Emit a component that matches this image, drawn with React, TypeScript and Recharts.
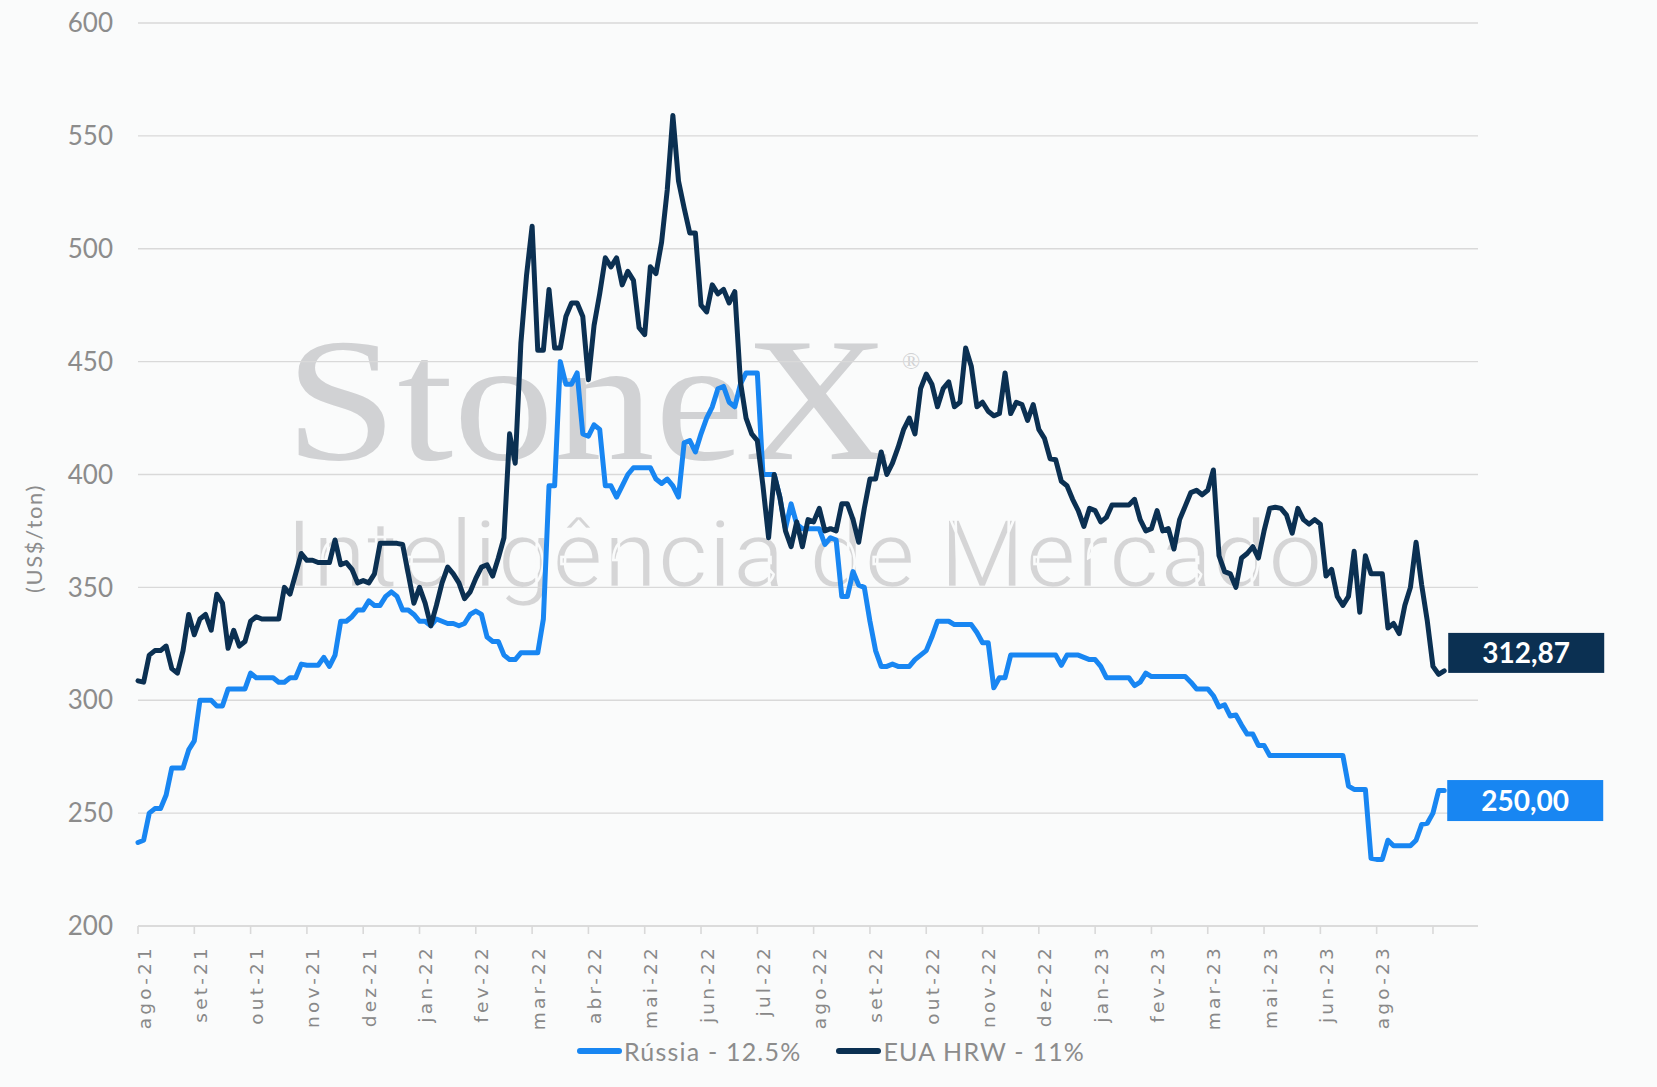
import React from "react";
import {
  CartesianGrid,
  Legend,
  Line,
  LineChart,
  XAxis,
  YAxis,
} from "recharts";

// tick labels on the date axis, one every 10 points (last tick has no label)
const xLabels = [
  "ago-21", "set-21", "out-21", "nov-21", "dez-21", "jan-22", "fev-22", "mar-22",
  "abr-22", "mai-22", "jun-22", "jul-22", "ago-22", "set-22", "out-22", "nov-22",
  "dez-22", "jan-23", "fev-23", "mar-23", "mai-23", "jun-23", "ago-23", "",
];
const POINTS_PER_TICK = 10;
const X_MAX = 238;

const yTicks = [200, 250, 300, 350, 400, 450, 500, 550, 600];

const seriesNames = ["Rússia - 12.5%", "EUA HRW - 11%"];

// Rússia - 12.5% (US$/ton)
const russia = [
  237, 238, 250, 252, 252, 258, 270, 270, 270, 278,
  282, 300, 300, 300, 297.5, 297.5, 305, 305, 305, 305,
  312, 310, 310, 310, 310, 308, 308, 310, 310, 316,
  315.5, 315.5, 315.5, 319, 315, 320, 335, 335, 337, 340,
  340, 344, 342, 342, 346, 348, 346, 340, 340, 338,
  335, 335, 333, 336, 335, 334, 334, 333, 334, 338,
  339.5, 338, 328, 326, 326, 320, 318, 318, 321, 321,
  321, 321, 336, 395, 395, 450, 440, 440, 445, 418,
  417, 422, 420, 395, 395, 390, 395, 400, 403, 403,
  403, 403, 398, 396, 398, 395, 390, 414, 415, 410,
  418, 425, 430, 438, 439, 432, 430, 440, 445, 445,
  445, 400, 400, 400, 390, 376, 387, 378, 376, 376,
  376, 376, 369, 372, 371, 346, 346, 357, 351, 350,
  335, 322, 315, 315, 316, 315, 315, 315, 318, 320,
  322, 328, 335, 335, 335, 333.5, 333.5, 333.5, 333.5, 330,
  325.5, 325.5, 305.5, 310, 310, 320, 320, 320, 320, 320,
  320, 320, 320, 320, 315.5, 320, 320, 320, 319, 318,
  318, 315, 310, 310, 310, 310, 310, 306.5, 308, 312,
  310.5, 310.5, 310.5, 310.5, 310.5, 310.5, 310.5, 308, 305, 305,
  305, 302, 297, 298, 293, 293.5, 289, 285, 285, 280,
  280, 275.5, 275.5, 275.5, 275.5, 275.5, 275.5, 275.5, 275.5, 275.5,
  275.5, 275.5, 275.5, 275.5, 275.5, 262, 260.5, 260.5, 260.5, 230,
  229.5, 229.5, 238, 235.5, 235.5, 235.5, 235.5, 238, 245, 245.5,
  250, 260, 260,
];

// EUA HRW - 11% (US$/ton)
const usaHrw = [
  308.6, 308, 320, 322, 322, 324, 314, 312, 322, 338,
  329, 336, 338, 331, 347, 343, 323, 331, 324, 326,
  335, 337, 336, 336, 336, 336, 350, 347, 356, 365,
  362, 362, 361, 361, 361, 371, 360, 361, 358, 352,
  353, 352, 356, 369.5, 369.5, 369.5, 369.5, 369, 356, 343,
  350, 343, 333, 342, 352, 359, 356, 352, 345, 348,
  354, 359, 360, 355, 363, 372, 418, 405, 458, 488,
  510, 455, 455, 482, 456, 456, 470, 476, 476, 470,
  442, 466, 480, 496, 492, 496, 484, 490, 486, 465,
  462, 492, 489, 503, 526, 559, 530, 518, 507, 507,
  475, 472, 484, 480, 482, 476, 481, 441, 425, 418,
  415, 395, 372, 400, 390, 375, 368, 379, 368, 380,
  379, 385, 375, 376, 375, 387, 387, 380, 370, 385,
  398, 398, 410, 400, 405, 412, 420, 425, 418, 438,
  444.5, 440, 430, 438, 441, 430, 432, 456, 448, 430,
  432, 428, 426, 427, 445, 427, 432, 431, 424, 431,
  420, 416, 407, 406.5, 397, 395, 389, 384, 377, 385,
  384, 379, 381, 386.5, 386.5, 386.5, 386.5, 389, 380, 375,
  376, 384, 375, 376, 367, 380, 386, 392, 393, 391,
  393, 402, 364, 357, 356, 350, 363, 365, 368, 363,
  375, 385, 385.5, 385, 382, 374, 385, 380, 378, 380,
  378, 355, 358, 346, 342, 346, 366, 339, 364, 356,
  356, 356, 332, 334, 329.5, 342, 350, 370, 351, 335,
  315, 311.5, 313,
];

const lastLabels = { russia: "250,00", usa: "312,87" };

const data = russia.map((v, i) => ({ i, russia: v, usa: usaHrw[i] }));
const xTicks = xLabels.map((_, k) => k * POINTS_PER_TICK);
const LAST = data.length - 1;

const GRAY = "#8C8C8C";
const GRID = "#D9D9D9";
const BLUE = "#1886F2";
const NAVY = "#0B3052";
const BG = "#FAFBFB";
const FONT = "Lato, 'Open Sans', sans-serif";

function XTick(props: any) {
  const { x, y, payload } = props;
  const label = xLabels[Math.round(payload.value / POINTS_PER_TICK)] ?? "";
  return (
    <g transform={`translate(${x + 12.5},${y}) rotate(-90)`}>
      <text
        x={0}
        y={0}
        textAnchor="end"
        fill="#888888"
        fontSize={18.5}
        fontFamily="'DejaVu Sans', sans-serif"
        style={{ letterSpacing: "3.2px" }}
      >
        {label}
      </text>
    </g>
  );
}

function renderYLabel(props: any) {
  const vb = props.viewBox || { x: 0, y: 23, width: 138, height: 903 };
  const cx = vb.x + 42;
  const cy = vb.y + vb.height / 2 + 64;
  return (
    <text
      transform={`translate(${cx},${cy}) rotate(-90)`}
      textAnchor="middle"
      fill={GRAY}
      fontSize={22}
      fontFamily={FONT}
      style={{ letterSpacing: "1.6px" }}
    >
      (US$/ton)
    </text>
  );
}

// value box drawn next to the last point of a series
function endBox(text: string, fill: string, dx: number, dy: number, h: number) {
  return (props: any) => {
    const { cx, cy, index } = props;
    if (index !== LAST) return <g key={`d-${index}`} />;
    return (
      <g key={`d-${index}`}>
        <rect x={cx + dx} y={cy + dy} width={156} height={h} fill={fill} />
        <text
          x={cx + dx + 78}
          y={cy + dy + h / 2 + 10}
          textAnchor="middle"
          fill="#FFFFFF"
          fontSize={28}
          fontWeight={700}
          fontFamily={FONT}
        >
          {text}
        </text>
      </g>
    );
  };
}

function renderLegend(props: any) {
  const payload = [...(props.payload || [])].sort(
    (a: any, b: any) => seriesNames.indexOf(a.value) - seriesNames.indexOf(b.value)
  );
  return (
    <div
      style={{
        display: "flex",
        justifyContent: "center",
        alignItems: "center",
        gap: 35,
        paddingLeft: 5,
        fontFamily: FONT,
      }}
    >
      {payload.map((entry: any) => (
        <div key={entry.value} style={{ display: "flex", alignItems: "center" }}>
          <span
            style={{
              display: "inline-block",
              width: 45,
              height: 5.5,
              borderRadius: 3,
              background: entry.color,
            }}
          />
          <span
            style={{
              marginLeft: 2,
              fontSize: 25,
              lineHeight: "32px",
              color: GRAY,
              letterSpacing: "1.2px",
            }}
          >
            {entry.value}
          </span>
        </div>
      ))}
    </div>
  );
}

export default function App() {
  return (
    <div
      style={{
        position: "absolute",
        left: 0,
        top: 0,
        width: 1657,
        height: 1087,
        background: BG,
        overflow: "hidden",
        fontFamily: FONT,
      }}
    >
      {/* watermark */}
      <svg
        width={1657}
        height={1087}
        style={{ position: "absolute", left: 0, top: 0 }}
      >
        <text
          x={285}
          y={459}
          fill="#D1D2D4"
          fontSize={176}
          fontFamily="'Liberation Serif', 'DejaVu Serif', serif"
          textLength={605}
          lengthAdjust="spacingAndGlyphs"
        >
          StoneX
        </text>
        <text
          x={902}
          y={369}
          fill="#D1D2D4"
          fontSize={24}
          fontFamily="'Liberation Serif', serif"
        >
          ®
        </text>
        {/* a background-coloured stroke thins the glyphs to a light weight */}
        <text
          x={286}
          y={587}
          fill="#D5D5D6"
          stroke={BG}
          strokeWidth={2.4}
          fontSize={94}
          fontFamily="Roboto, 'Open Sans', sans-serif"
          textLength={1037}
          lengthAdjust="spacingAndGlyphs"
        >
          Inteligência de Mercado
        </text>
      </svg>

      <div style={{ position: "absolute", left: 0, top: 0 }}>
        <LineChart
          width={1657}
          height={1087}
          data={data}
          margin={{ top: 23, right: 179, left: 0, bottom: 61 }}
        >
          <CartesianGrid vertical={false} stroke={GRID} strokeWidth={1.4} />
          <XAxis
            dataKey="i"
            type="number"
            domain={[0, X_MAX]}
            ticks={xTicks}
            interval={0}
            height={100}
            tickSize={8}
            tickMargin={11}
            axisLine={{ stroke: GRID, strokeWidth: 1.6 }}
            tickLine={{ stroke: GRID, strokeWidth: 1.6 }}
            tick={<XTick />}
          />
          <YAxis
            type="number"
            domain={[200, 600]}
            ticks={yTicks}
            width={138}
            axisLine={false}
            tickLine={false}
            tickSize={0}
            tickMargin={25}
            tick={{ fill: GRAY, fontSize: 26, fontFamily: FONT }}
            label={renderYLabel}
          />
          <Legend
            layout="horizontal"
            verticalAlign="middle"
            align="center"
            content={renderLegend}
            wrapperStyle={{ top: 1035, left: 0, width: 1657 }}
          />
          <Line
            type="linear"
            dataKey="russia"
            name={seriesNames[0]}
            stroke={BLUE}
            strokeWidth={5}
            strokeLinejoin="round"
            strokeLinecap="round"
            dot={endBox(lastLabels.russia, BLUE, 3, -10.5, 41)}
            activeDot={false}
            isAnimationActive={false}
          />
          <Line
            type="linear"
            dataKey="usa"
            name={seriesNames[1]}
            stroke={NAVY}
            strokeWidth={5}
            strokeLinejoin="round"
            strokeLinecap="round"
            dot={endBox(lastLabels.usa, NAVY, 4, -38, 40)}
            activeDot={false}
            isAnimationActive={false}
          />
        </LineChart>
      </div>
    </div>
  );
}
